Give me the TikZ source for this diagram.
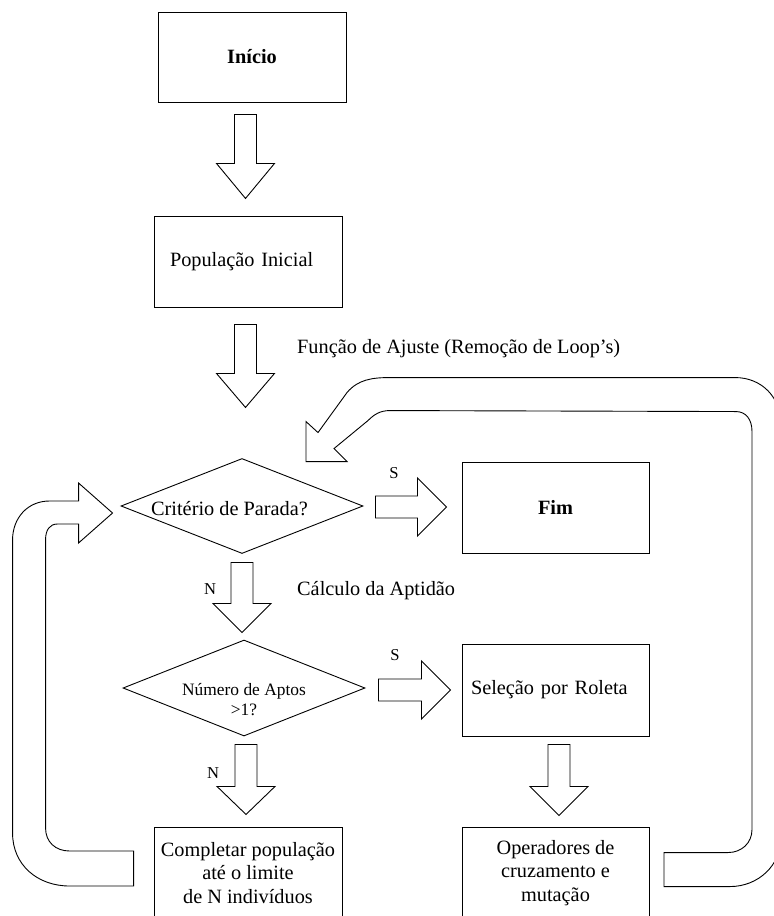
\documentclass[tikz,border=0pt]{standalone}
\usepackage{fontspec}
\setmainfont{Liberation Serif}
\usetikzlibrary{shapes.geometric,calc}

% hollow block arrow pointing down: top centre, total length, head length
\newcommand{\BlkDown}[3]{%
  \draw[blk] ($(#1)+(-11,0)$) -- ++(22,0) -- ++(0,{#2-#3}) -- ++(18,0)
    -- ++(-29,#3) -- ++(-29,-#3) -- ++(18,0) -- cycle;}
% hollow block arrow pointing right: left centre, total length, head length
\newcommand{\BlkRight}[3]{%
  \draw[blk] ($(#1)+(0,-11)$) -- ++({#2-#3},0) -- ++(0,-18) -- ++(#3,29)
    -- ++(-#3,29) -- ++(0,-18) -- ++({-(#2-#3)},0) -- cycle;}

\begin{document}
\begin{tikzpicture}[x=1pt,y=-1pt,
  mainfont/.style={font=\fontsize{20.3}{23.5}\selectfont},
  box/.style={draw, line width=0.9pt, inner sep=0pt, mainfont,
              minimum width=188pt, minimum height=91pt},
  dia/.style={draw, line width=0.9pt, shape=diamond, aspect=2.55,
              inner sep=0pt, minimum width=242pt, minimum height=95pt},
  lab/.style={inner sep=0pt, mainfont},
  sm/.style={inner sep=0pt, font=\fontsize{16.6}{19}\selectfont},
  blk/.style={draw, line width=0.9pt, fill=white, line join=miter}]

\fill[white] (0,0) rectangle (774,916);
\clip (0,0) rectangle (774,916);

% process boxes
\node[box, minimum height=90pt] (start) at (252,57) {\textbf{Início}};
\node[box, text width=156pt, inner xsep=16pt, align=left] (pop) at (248,261.5) {População Inicial};
\node[box, minimum width=187pt] (fim) at (555.5,507.5) {\textbf{Fim}};
\node[box, minimum width=187pt, minimum height=92pt, text width=169pt, inner xsep=9pt, align=left]
  (sel) at (555.5,690) {Seleção por Roleta};
\node[box, align=center] (comp) at (248,873) {Completar população\\até o limite\\de N indivíduos};
\node[box, minimum width=187pt, align=center] (op) at (555.5,873) {Operadores de\\cruzamento e\\mutação};

% decisions
\node[dia] (crit) at (242,506) {};
\node[lab] (critt) at (229.5,509) {Critério de Parada?};
\node[dia, minimum height=96pt] (num) at (244,688) {};
\node[inner sep=0pt, align=center, font=\fontsize{17.4}{20}\selectfont] (numt) at (244,700)
  {Número de Aptos\\>1?};

% free labels
\node[lab, anchor=west] (fa) at (297,349) {Função de Ajuste (Remoção de Loop’s)};
\node[lab, anchor=west] (ca) at (297,591) {Cálculo da Aptidão};
\node[sm] (s1) at (394,473) {S};
\node[sm] (s2) at (395,655) {S};
\node[sm] (n1) at (210,589) {N};
\node[sm] (n2) at (213,773) {N};

% straight block arrows
\coordinate (a1) at ($(start.south)+(-6.5,12)$);
\coordinate (a2) at ($(pop.south)+(-2.5,17)$);
\coordinate (a3) at ($(crit.south)+(0,8.5)$);
\coordinate (a4) at ($(num.south)+(2,8)$);
\coordinate (a5) at ($(sel.south)+(3.5,8)$);
\coordinate (a6) at ($(crit.east)+(12,1)$);
\coordinate (a7) at ($(num.east)+(13,2)$);
\BlkDown{a1}{84}{35}
\BlkDown{a2}{83}{34}
\BlkDown{a3}{70}{29}
\BlkDown{a4}{70}{28}
\BlkDown{a5}{71}{29}
\BlkRight{a6}{71}{29}
\BlkRight{a7}{72}{29}

% loop back from the completion box to the stop test
\coordinate (ltip) at ($(crit.west)+(-8,7)$);
\begin{scope}[shift={(ltip)}]
  \draw[blk, fill=none] (0,0) -- (-34,-30) -- (-34,-12) -- (-63,-12)
    .. controls (-85,-12) and (-100,5) .. (-100,27) -- (-100,320)
    .. controls (-100,352) and (-75,373) .. (-43,373) -- (21,373) -- (21,338) -- (-43,338)
    .. controls (-57,338) and (-67,329) .. (-67,315) -- (-67,27)
    .. controls (-67,17) and (-63,11) .. (-55,11) -- (-34,11) -- (-34,30) -- cycle;
\end{scope}

% loop back from the genetic operators to the stop test
\coordinate (rtip) at ($(crit.north)+(64,3.5)$);
\begin{scope}[shift={(rtip)}]
  \draw[blk, fill=none] (0,0) -- (0,-40) -- (12,-29) -- (41,-69)
    .. controls (52,-82) and (66,-84) .. (84,-84) -- (429,-84)
    .. controls (456,-84) and (475,-64) .. (475,-37) -- (475,376)
    .. controls (475,404) and (452,425) .. (424,425) -- (358,425) -- (358,391) -- (422,391)
    .. controls (436,391) and (446,381) .. (446,368) -- (446,-30)
    .. controls (446,-42) and (440,-50) .. (430,-50) -- (84,-51)
    .. controls (74,-51) and (68,-47) .. (62,-41) -- (28,-13) -- (41,0) -- cycle;
\end{scope}
\end{tikzpicture}
\end{document}
